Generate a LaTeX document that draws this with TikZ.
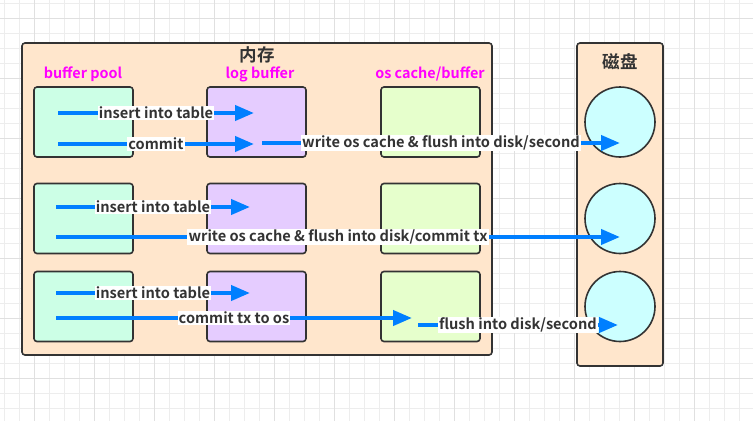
\documentclass[tikz,border=0pt]{standalone}
\usepackage{fontspec}
\setmainfont{Noto Sans CJK SC}[BoldFont={Noto Sans CJK SC Bold}]
\usetikzlibrary{positioning,arrows.meta}
\definecolor{edge}{HTML}{333333}
\definecolor{memfill}{HTML}{FFE6CC}
\definecolor{poolgreen}{HTML}{CCFFE6}
\definecolor{logpurple}{HTML}{E5CCFF}
\definecolor{oslime}{HTML}{E6FFCC}
\definecolor{diskcyan}{HTML}{CCFFFF}
\definecolor{flowblue}{HTML}{007FFF}
\definecolor{tagpink}{HTML}{FF00FF}
\definecolor{gridminor}{HTML}{EDEDED}
\definecolor{gridmajor}{HTML}{E0E0E0}

\tikzset{
  panel/.style={draw=edge, line width=1.6pt, fill=memfill, rounded corners=3pt, inner sep=0pt},
  bufbox/.style={draw=edge, line width=1.6pt, rounded corners=3pt, minimum width=99pt, minimum height=70pt, inner sep=0pt},
  platter/.style={circle, draw=edge, line width=1.6pt, fill=diskcyan, minimum size=70pt, inner sep=0pt},
  tag/.style={text=tagpink, font=\bfseries\fontsize{14.4}{15}\selectfont},
  title/.style={text=edge, font=\bfseries\fontsize{17.5}{18}\selectfont},
  flow/.style={draw=flowblue, line width=4pt, -{Triangle[length=19pt,width=15pt]}},
  lbl/.style={fill=white, text=edge, inner sep=1.2pt, font=\bfseries\fontsize{14.6}{15}\selectfont}
}

\begin{document}
\begin{tikzpicture}[x=1pt,y=-1pt]
    \useasboundingbox (0,0) rectangle (753,421);

    % background grid
    \foreach \gx in {4,19,...,753} \draw[gridminor, line width=0.8pt] (\gx,0) -- (\gx,421);
    \foreach \gy in {3,18,...,421} \draw[gridminor, line width=0.8pt] (0,\gy) -- (753,\gy);
    \foreach \gx in {34,94,...,753} \draw[gridmajor, line width=0.8pt] (\gx,0) -- (\gx,421);
    \foreach \gy in {18,78,...,421} \draw[gridmajor, line width=0.8pt] (0,\gy) -- (753,\gy);

    % memory and disk panels
    \node[panel, minimum width=470pt, minimum height=312pt] (mem) at (257,199) {};
    \node[panel, minimum width=86pt, minimum height=323pt] (disk) at (620,204.5) {};
    \node[title] (memtitle) at (257,55) {内存};
    \node[title] (disktitle) at (620,62) {磁盘};

    % column tags
    \node[tag] (pooltag) at (83,74) {buffer pool};
    \node[tag] (logtag) at (260,74) {log buffer};
    \node[tag] (ostag) at (430,74) {os cache/buffer};

    % three rows of buffers and platters
    \foreach \r/\ry in {1/122, 2/218.5, 3/306.5} {
      \node[bufbox, fill=poolgreen] (pool\r) at (83.5,\ry) {};
      \node[bufbox, fill=logpurple] (log\r) at (256.5,\ry) {};
      \node[bufbox, fill=oslime] (os\r) at (430.5,\ry) {};
      \node[platter] (plat\r) at (620,\ry) {};
    }

    % arrow end points
    \coordinate (ins1a) at (58,113);   \coordinate (ins1b) at (254,113);
    \coordinate (com1a) at (58,144);   \coordinate (com1b) at (254,144);
    \coordinate (wr1a) at (262,143);   \coordinate (wr1b) at (620,143);
    \coordinate (ins2a) at (56,207);   \coordinate (ins2b) at (250,207);
    \coordinate (wr2a) at (56,237);    \coordinate (wr2b) at (620,237);
    \coordinate (ins3a) at (56,293);   \coordinate (ins3b) at (250,293);
    \coordinate (com3a) at (56,318);   \coordinate (com3b) at (412,318);
    \coordinate (fl3a) at (418,325);   \coordinate (fl3b) at (618,325);

    % row 1: flush every second
    \draw[flow] (ins1a) -- node[lbl] (ins1l) {insert into table} (ins1b);
    \draw[flow] (com1a) -- node[lbl] (com1l) {commit} (com1b);
    \draw[flow] (wr1a) -- node[lbl] (wr1l) {write os cache \& flush into disk/second} (wr1b);

    % row 2: flush at commit
    \draw[flow] (ins2a) -- node[lbl] (ins2l) {insert into table} (ins2b);
    \draw[flow] (wr2a) -- node[lbl] (wr2l) {write os cache \& flush into disk/commit tx} (wr2b);

    % row 3: write to os at commit
    \draw[flow] (ins3a) -- node[lbl] (ins3l) {insert into table} (ins3b);
    \draw[flow] (com3a) -- node[lbl] (com3l) {commit tx to os} (com3b);
    \draw[flow] (fl3a) -- node[lbl] (fl3l) {flush into disk/second} (fl3b);
\end{tikzpicture}
\end{document}
